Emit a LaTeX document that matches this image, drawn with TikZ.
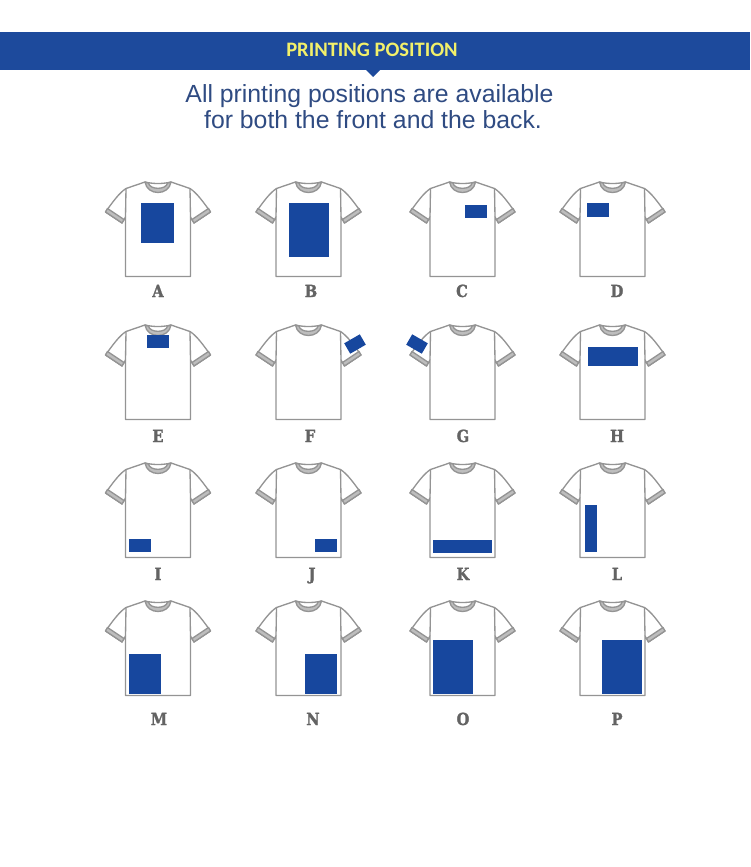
\documentclass[tikz,border=0pt]{standalone}
\usepackage{xcolor}
\usepackage{fontspec}
\setmainfont{Liberation Sans}
\newfontfamily\titlefont{Carlito}
\newfontfamily\letterfont[FakeStretch=0.88,FakeBold=1.5]{DejaVu Serif}
\usetikzlibrary{positioning}
\definecolor{bandblue}{HTML}{1D4A9C}
\definecolor{printblue}{HTML}{17479E}
\definecolor{titleyellow}{HTML}{F2F06A}
\definecolor{introink}{HTML}{2F4B82}
\definecolor{shirtgray}{HTML}{949494}
\definecolor{collargray}{HTML}{BDBDBD}
\definecolor{lettergray}{HTML}{636363}
\tikzset{
  band/.style   ={fill=bandblue,draw=none},
  title/.style  ={font=\titlefont\fontsize{15.4}{18}\selectfont\bfseries,text=titleyellow,inner sep=0pt,anchor=base},
  intro/.style  ={font=\fontsize{18.6}{21}\selectfont,text=introink,inner sep=0pt,anchor=base},
  letter/.style ={font=\letterfont\fontsize{12.5}{14}\selectfont\bfseries,text=lettergray,inner sep=0pt,anchor=base},
  printarea/.style ={fill=printblue,draw=none},
  shirtline/.style ={draw=shirtgray,line width=1pt,line join=round},
  shirt/.pic={
    \draw[shirtline,fill=white] (-13,0) -- (-32,6.5) .. controls (-39,11) and (-46,21) .. (-52.5,30)
      -- (-36,41) -- (-32.5,35) -- (-32.5,94.5) -- (32.5,94.5) -- (32.5,35) -- (36,41) -- (52.5,30)
      .. controls (46,21) and (39,11) .. (32,6.5) -- (13,0) .. controls (5,2) and (-5,2) .. (-13,0) -- cycle;
    \draw[shirtline] (-32,6.5) -- (-32.5,35);
    \draw[shirtline] (32,6.5) -- (32.5,35);
    % cuffs
    \draw[shirtline,fill=collargray] (-52.5,30) -- (-36,41) -- (-34,37.5) -- (-50.5,26.5) -- cycle;
    \draw[shirtline,fill=collargray] (52.5,30) -- (36,41) -- (34,37.5) -- (50.5,26.5) -- cycle;
    % collar
    \draw[shirtline,fill=collargray] (-13,0) .. controls (-11,14) and (11,14) .. (13,0)
      -- (9.5,1.2) .. controls (8,8) and (-8,8) .. (-9.5,1.2) -- cycle;
  },
}
\begin{document}
\begin{tikzpicture}[x=0.75pt,y=-0.75pt]
  \useasboundingbox (0,0) rectangle (750,867);

  % header
  \fill[band] (0,32) rectangle (750,70);
  \fill[band] (366,70) -- (380,70) -- (373,77) -- cycle;
  \node[title] (head) at (372,56.5) {PRINTING POSITION};
  \node[intro] (line1) at (369.5,102.5) {All printing positions are available};
  \node[intro] (line2) at (373,128.5) {for both the front and the back.};

  % row 1
  \pic at (158,182) {shirt};
  \pic at (308.5,182) {shirt};
  \pic at (462.5,182) {shirt};
  \pic at (612.5,182) {shirt};
  \fill[printarea] (141,203) rectangle (174,243);
  \fill[printarea] (289,203) rectangle (329,257);
  \fill[printarea] (465,205) rectangle (487,218);
  \fill[printarea] (587,203) rectangle (609,217);
  \node[letter] (a) at (158,297) {A};
  \node[letter] (b) at (311,297) {B};
  \node[letter] (c) at (462,297) {C};
  \node[letter] (d) at (617,297) {D};

  % row 2
  \pic at (158,325) {shirt};
  \pic at (308.5,325) {shirt};
  \pic at (462.5,325) {shirt};
  \pic at (612.5,325) {shirt};
  \fill[printarea] (147,335) rectangle (169,348);
  \fill[printarea,rotate around={30:(355,344)}] (346,338) rectangle (364,350);
  \fill[printarea,rotate around={-30:(417,344)}] (408,338) rectangle (426,350);
  \fill[printarea] (588,347) rectangle (638,366);
  \node[letter] (e) at (158,442) {E};
  \node[letter] (f) at (310,442) {F};
  \node[letter] (g) at (463,442) {G};
  \node[letter] (h) at (617,442) {H};

  % row 3
  \pic at (158,463) {shirt};
  \pic at (308.5,463) {shirt};
  \pic at (462.5,463) {shirt};
  \pic at (612.5,463) {shirt};
  \fill[printarea] (129,539) rectangle (151,552);
  \fill[printarea] (315,539) rectangle (337,552);
  \fill[printarea] (433,540) rectangle (492,553);
  \fill[printarea] (585,505) rectangle (597,552);
  \node[letter] (i) at (158,580) {I};
  \node[letter] (j) at (312,580) {J};
  \node[letter] (k) at (463,580) {K};
  \node[letter] (l) at (617,580) {L};

  % row 4
  \pic at (158,601) {shirt};
  \pic at (308.5,601) {shirt};
  \pic at (462.5,601) {shirt};
  \pic at (612.5,601) {shirt};
  \fill[printarea] (129,654) rectangle (161,694);
  \fill[printarea] (305,654) rectangle (337,694);
  \fill[printarea] (433,640) rectangle (473,694);
  \fill[printarea] (602,640) rectangle (642,694);
  \node[letter] (m) at (159,725) {M};
  \node[letter] (n) at (313,725) {N};
  \node[letter] (o) at (463,725) {O};
  \node[letter] (p) at (617,725) {P};
\end{tikzpicture}
\end{document}
